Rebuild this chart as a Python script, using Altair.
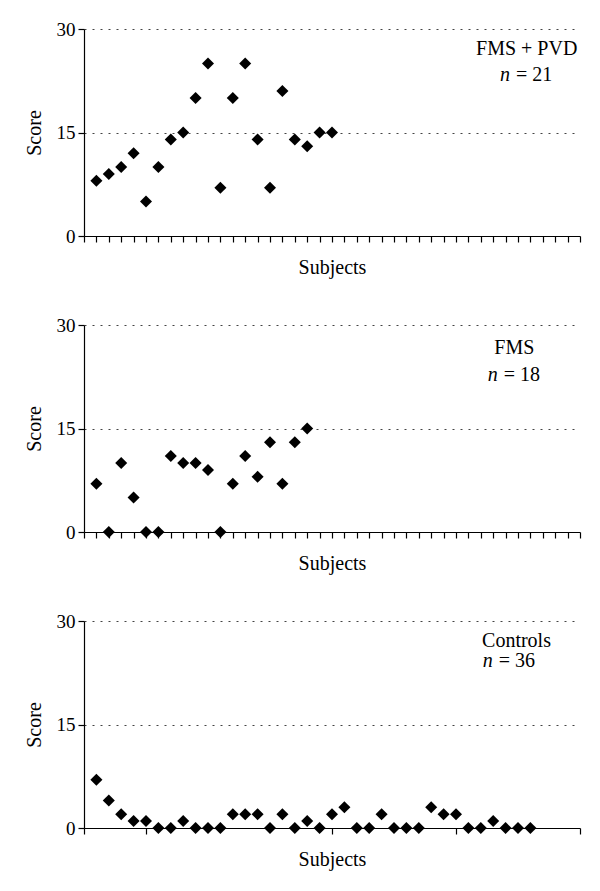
import altair as alt
import pandas as pd

# ---- data ----
fms_pvd = [8, 9, 10, 12, 5, 10, 14, 15, 20, 25, 7, 20, 25, 14, 7, 21, 14, 13, 15, 15]
fms = [7, 0, 10, 5, 0, 0, 11, 10, 10, 9, 0, 7, 11, 8, 13, 7, 13, 15]
controls = [7, 4, 2, 1, 1, 0, 0, 1, 0, 0, 0, 2, 2, 2, 0, 2, 0, 1, 0, 2,
            3, 0, 0, 2, 0, 0, 0, 3, 2, 2, 0, 0, 1, 0, 0, 0]
group_names = ["FMS + PVD", "FMS", "Controls"]
group_n = [21, 18, 36]
y_ticks = [0, 15, 30]
x_ticks_dense = list(range(0, 41))
x_ticks_controls = [0, 5, 20, 30, 40]

FONT = "'Liberation Serif', 'Times New Roman', 'DejaVu Serif', serif"
W, H = 496, 207


def panel(values, name, n, xticks, name_x, name_y, name_align, n_x, n_y):
    df = pd.DataFrame({"subject": list(range(1, len(values) + 1)), "score": values})
    x = alt.X("subject:Q",
              scale=alt.Scale(domain=[0, 40], nice=False, zero=False),
              axis=alt.Axis(title="Subjects", values=xticks, labels=False, grid=False,
                            tickSize=6, titlePadding=15))
    y = alt.Y("score:Q",
              scale=alt.Scale(domain=[0, 30], nice=False, zero=False),
              axis=alt.Axis(title="Score", values=y_ticks, grid=True, gridDash=[2, 6],
                            gridColor="#444444", gridWidth=1, tickSize=6,
                            labelPadding=3, titlePadding=12))
    pts = alt.Chart(df).mark_point(shape="diamond", filled=True, size=145,
                                   color="black", opacity=1).encode(x=x, y=y)
    name_df = pd.DataFrame({"subject": [name_x], "score": [name_y], "t": [name]})
    lbl = alt.Chart(name_df).mark_text(font=FONT, fontSize=20, align=name_align,
                                       baseline="middle", color="black").encode(
        x=x, y=y, text="t:N")
    n_df = pd.DataFrame({"subject": [n_x], "score": [n_y],
                         "a": ["n"], "b": [f"= {n}"]})
    nl = alt.Chart(n_df).mark_text(font=FONT, fontSize=20, fontStyle="italic",
                                   align="right", dx=-3, baseline="middle",
                                   color="black").encode(x=x, y=y, text="a:N")
    el = alt.Chart(n_df).mark_text(font=FONT, fontSize=20, align="left", dx=3,
                                   baseline="middle", color="black").encode(
        x=x, y=y, text="b:N")
    return alt.layer(pts, lbl, nl, el).properties(width=W, height=H)


p1 = panel(fms_pvd, group_names[0], group_n[0], x_ticks_dense,
           35.7, 27.1, "center", 34.6, 23.3)
p2 = panel(fms, group_names[1], group_n[1], x_ticks_dense,
           34.7, 26.7, "center", 33.6, 22.8)
p3 = panel(controls, group_names[2], group_n[2], x_ticks_controls,
           32.1, 27.1, "left", 33.2, 24.2)

chart = alt.vconcat(p1, p2, p3, spacing=38).properties(
    padding={"top": 12, "left": 16, "right": 5, "bottom": 5}
).configure_axis(
    labelFont=FONT, titleFont=FONT, labelFontSize=19, titleFontSize=20,
    titleFontWeight="normal", labelColor="black", titleColor="black",
    domainColor="black", tickColor="black", domainWidth=1.2, tickWidth=1.2
).configure_view(stroke=None)

chart.save("out.html", embed_options={"renderer": "svg", "actions": False})
